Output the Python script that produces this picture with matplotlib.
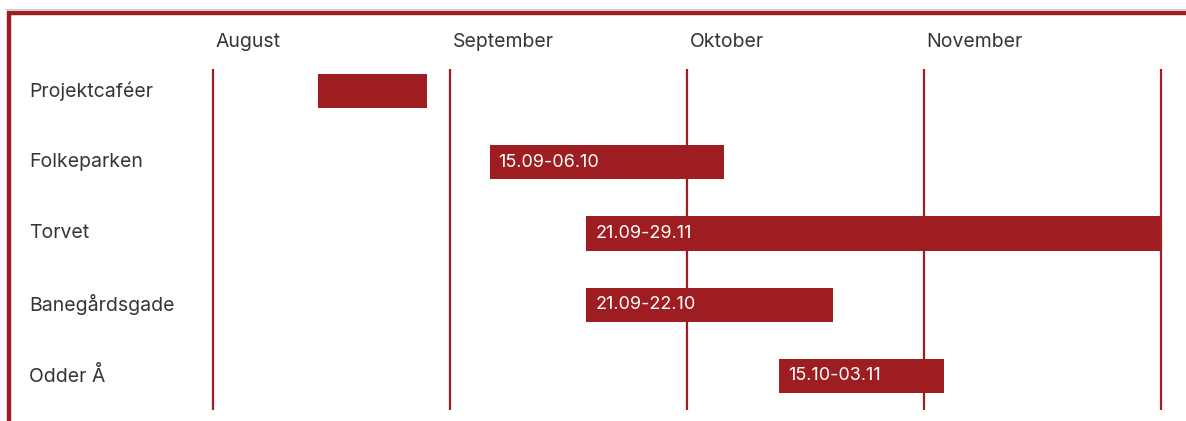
import matplotlib.pyplot as plt
from matplotlib.lines import Line2D

RED = '#9e1d21'
TEXT = '#353535'

# months on the x axis, one unit per month (August = 0)
months = ['August', 'September', 'Oktober', 'November']
month_lines = [0, 1, 2, 3, 4]

activities = ['Projektcaféer', 'Folkeparken', 'Torvet', 'Banegårdsgade', 'Odder Å']
starts = [0.44, 1.167, 1.575, 1.575, 2.388]
ends = [0.90, 2.155, 3.996, 2.615, 3.084]
bar_labels = ['', '15.09-06.10', '21.09-29.11', '21.09-22.10', '15.10-03.11']

plt.rcParams['font.family'] = ['Inter', 'DejaVu Sans']

fig = plt.figure(figsize=(11.86, 4.21), dpi=100)
ax = fig.add_axes([0, 0, 1, 1])
ax.set_xlim(-0.901, 4.106)
ax.set_ylim(4.632, -1.277)
ax.axis('off')

# month grid lines and labels
for m in month_lines:
    ax.plot([m, m], [-0.31, 4.48], color=RED, lw=1.6, solid_capstyle='butt')
for i, name in enumerate(months):
    ax.text(i + 0.01, -0.69, name, fontsize=14, color=TEXT, ha='left', va='center')

# bars
for i, (name, s, e, lab) in enumerate(zip(activities, starts, ends, bar_labels)):
    ax.barh(i, e - s, left=s, height=0.48, color=RED, zorder=3)
    ax.text(-0.778, i, name, fontsize=14, color=TEXT, ha='left', va='center')
    if lab:
        ax.text(s + 0.037, i, lab, fontsize=13, color='white', ha='left', va='center', zorder=4)

# frame: thin grey line, red top and left border
fig.add_artist(Line2D([5 / 1186, 1], [1 - 9.3 / 421] * 2, color='#cccccc', lw=0.8))
fig.add_artist(Line2D([7 / 1186, 1], [1 - 12.5 / 421] * 2, color=RED, lw=3.2, solid_capstyle='butt'))
fig.add_artist(Line2D([9 / 1186] * 2, [1 - 10.5 / 421, 0], color=RED, lw=3.2, solid_capstyle='butt'))

fig.savefig('out.png', dpi=100, facecolor='white')
